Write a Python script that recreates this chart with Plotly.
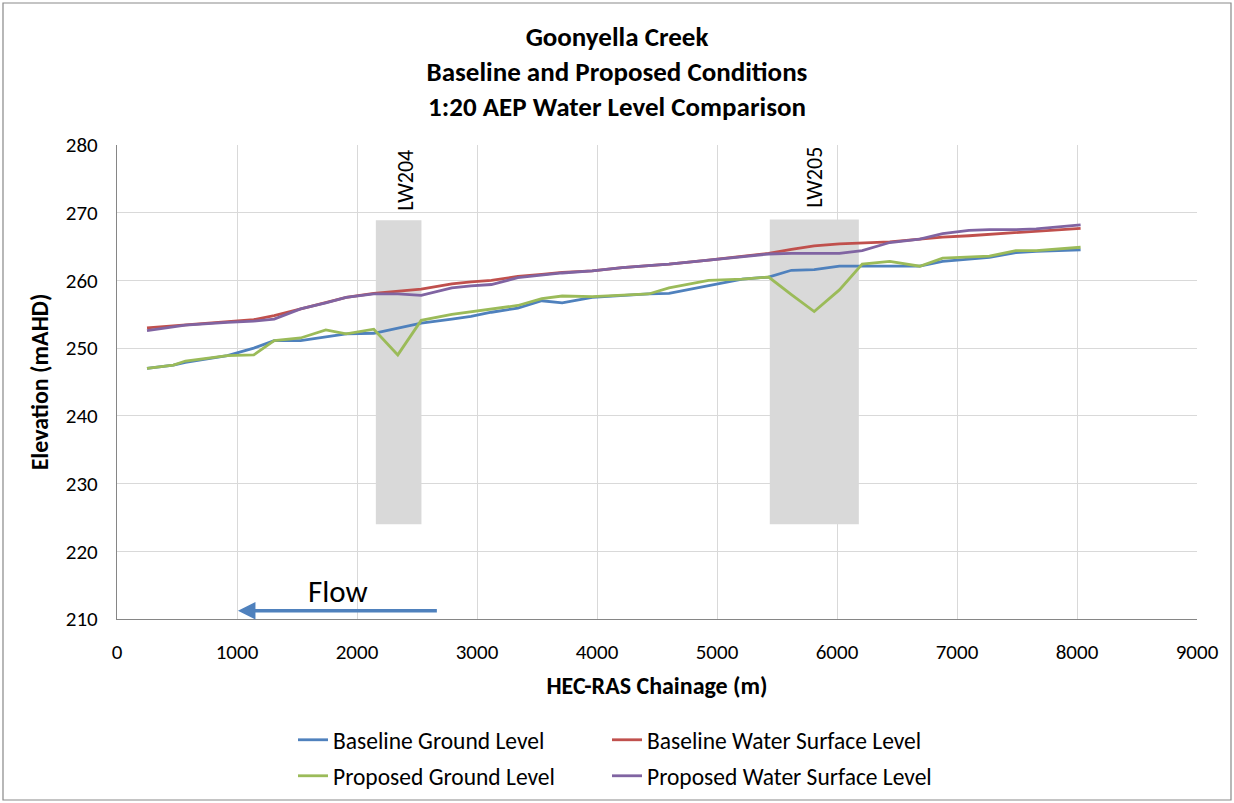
import plotly.graph_objects as go

# ---- data ----
chainage = [250, 470, 570, 920, 1140, 1310, 1530, 1740, 1910, 2140, 2340, 2535, 2790, 2950,
            3120, 3340, 3540, 3710, 3960, 4210, 4430, 4600, 4930, 5210, 5430, 5620, 5810,
            6020, 6210, 6440, 6690, 6880, 7100, 7270, 7490, 7660, 8030]

baseline_ground = [247.0, 247.5, 247.9, 248.9, 250.0, 251.1, 251.1, 251.7, 252.1, 252.2, 253.0,
                   253.7, 254.3, 254.7, 255.3, 255.9, 257.0, 256.7, 257.5, 257.8, 258.0, 258.1,
                   259.2, 260.2, 260.5, 261.5, 261.6, 262.1, 262.1, 262.1, 262.1, 262.8, 263.1,
                   263.4, 264.1, 264.3, 264.5]

baseline_wsl = [253.0, 253.3, 253.5, 253.9, 254.2, 254.8, 255.8, 256.7, 257.5, 258.1, 258.4,
                258.7, 259.5, 259.8, 260.0, 260.6, 260.9, 261.2, 261.4, 261.9, 262.2, 262.4,
                263.0, 263.5, 264.0, 264.6, 265.1, 265.4, 265.5, 265.7, 266.1, 266.4, 266.6,
                266.8, 267.1, 267.3, 267.7]

proposed_ground = [247.0, 247.5, 248.1, 248.9, 249.0, 251.1, 251.5, 252.7, 252.1, 252.8, 249.0,
                   254.1, 255.0, 255.4, 255.8, 256.3, 257.3, 257.7, 257.6, 257.8, 258.0, 258.9,
                   260.0, 260.2, 260.5, 257.9, 255.4, 258.6, 262.4, 262.8, 262.1, 263.3, 263.5,
                   263.6, 264.4, 264.4, 264.9]

proposed_wsl = [252.6, 253.2, 253.4, 253.8, 254.0, 254.3, 255.8, 256.7, 257.5, 258.0, 258.0,
                257.8, 258.9, 259.2, 259.4, 260.4, 260.8, 261.1, 261.4, 261.9, 262.2, 262.4,
                263.0, 263.5, 263.9, 264.0, 264.0, 264.0, 264.4, 265.6, 266.1, 266.9, 267.4,
                267.5, 267.5, 267.6, 268.2]

# longwall panels: name, start chainage, end chainage, bottom, top elevation
panel_names = ["LW204", "LW205"]
panel_x0 = [2157, 5440]
panel_x1 = [2537, 6182]
panel_y0 = [224.0, 224.0]
panel_y1 = [268.9, 269.0]
panel_label_x = [2405, 5810]
panel_label_y = [274.8, 275.2]

flow_tail = (2678, 211.2)
flow_head = (1008, 211.2)
flow_label = (1839, 214.2)

x_ticks = list(range(0, 9001, 1000))
y_ticks = list(range(210, 281, 10))

FONT = "Carlito, Calibri, Lato, 'Open Sans', sans-serif"

W, H = 1234, 803
L, R, T, B = 117, 37, 145, 184

# name, values, colour, legend id, legend position (left px of line sample, row centre px)
series = [
    ("Baseline Ground Level", baseline_ground, "#4F81BD", "legend", (297, 740)),
    ("Baseline Water Surface Level", baseline_wsl, "#C0504D", "legend2", (611, 740)),
    ("Proposed Ground Level", proposed_ground, "#9BBB59", "legend3", (297, 776)),
    ("Proposed Water Surface Level", proposed_wsl, "#8064A2", "legend4", (611, 776)),
]

fig = go.Figure()
legend_layouts = {}
for name, vals, col, leg, (lx, ly) in series:
    fig.add_trace(go.Scatter(x=chainage, y=vals, mode="lines", name=name,
                             line=dict(color=col, width=2.8), legend=leg))
    legend_layouts[leg] = dict(orientation="h", xref="container", yref="container",
                               x=(lx - 4) / W, y=1 - ly / H, xanchor="left", yanchor="middle",
                               font=dict(size=23.5), bgcolor="rgba(0,0,0,0)")

pw, ph = W - L - R, H - T - B
shapes = []
for x0, x1, y0, y1 in zip(panel_x0, panel_x1, panel_y0, panel_y1):
    shapes.append(dict(type="rect", xref="x", yref="y", x0=x0, x1=x1, y0=y0, y1=y1,
                       fillcolor="#D9D9D9", line=dict(width=0), layer="below"))
# outer chart border
shapes.append(dict(type="rect", xref="paper", yref="paper",
                   x0=(3 - L) / pw, x1=(1231 - L) / pw,
                   y0=(H - B - 800) / ph, y1=(H - B - 3) / ph,
                   line=dict(color="#898989", width=1.2), fillcolor="rgba(0,0,0,0)"))

annotations = []
for nm, lx, ly in zip(panel_names, panel_label_x, panel_label_y):
    annotations.append(dict(x=lx, y=ly, xref="x", yref="y", text=nm, showarrow=False,
                            textangle=-90, font=dict(family=FONT, size=22, color="#000000")))
annotations.append(dict(x=flow_head[0], y=flow_head[1], ax=flow_tail[0], ay=flow_tail[1],
                        xref="x", yref="y", axref="x", ayref="y", text="", showarrow=True,
                        arrowhead=2, arrowsize=1.0, arrowwidth=3.5, arrowcolor="#4F81BD"))
annotations.append(dict(x=flow_label[0], y=flow_label[1], xref="x", yref="y", text="Flow",
                        showarrow=False, font=dict(family=FONT, size=31, color="#000000")))

fig.update_layout(
    width=W, height=H,
    paper_bgcolor="white", plot_bgcolor="white",
    margin=dict(l=L, r=R, t=T, b=B),
    font=dict(family=FONT, color="#000000"),
    title=dict(text="<b>Goonyella Creek<br>Baseline and Proposed Conditions<br>1:20 AEP Water Level Comparison</b>",
               x=0.5, xref="container", xanchor="center", y=1 - 46 / H, yref="container", yanchor="top",
               font=dict(family=FONT, size=27, color="#000000")),
    xaxis=dict(range=[0, 9000], tickvals=x_ticks, showgrid=True, gridcolor="#D9D9D9",
               showline=True, linecolor="#868686", linewidth=1.2, ticks="", zeroline=False,
               tickfont=dict(size=21), ticklabelstandoff=14,
               title=dict(text="<b>HEC-RAS Chainage (m)</b>", font=dict(size=24), standoff=12)),
    yaxis=dict(range=[210, 280], tickvals=y_ticks, showgrid=True, gridcolor="#D9D9D9",
               showline=True, linecolor="#868686", linewidth=1.2, ticks="", zeroline=False,
               tickfont=dict(size=21), ticklabelstandoff=14,
               title=dict(text="<b>Elevation (mAHD)</b>", font=dict(size=24), standoff=10)),
    shapes=shapes, annotations=annotations, showlegend=True,
    **legend_layouts,
)

fig.write_html("out.html", config={"displayModeBar": False},
               post_script="document.body.style.margin='0px';")
